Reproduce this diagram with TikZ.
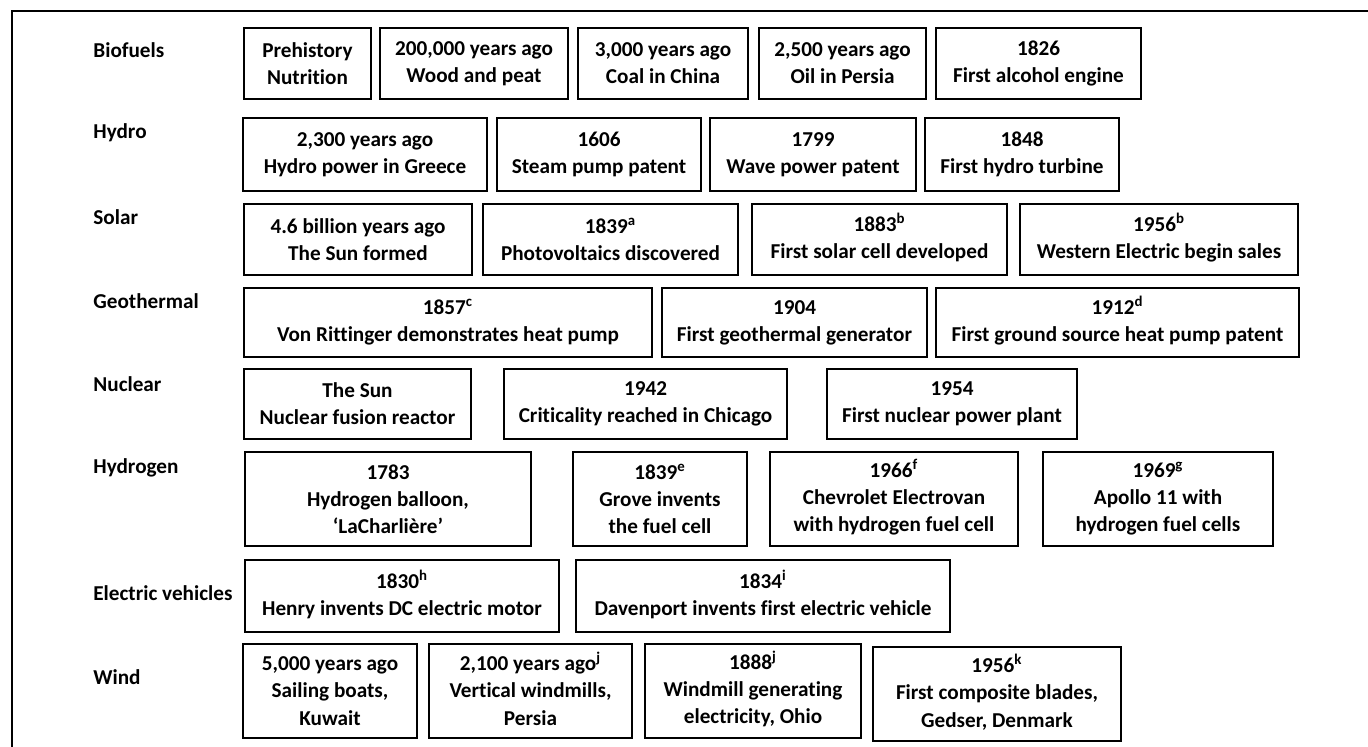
\documentclass[tikz,border=0pt]{standalone}
\usepackage{fontspec}
\setmainfont[Ligatures=NoCommon]{Carlito}

\newcommand\fnote[1]{\smash{\textsuperscript{#1}}}
\tikzset{
  evt/.style={draw, line width=1.3pt, inner sep=0pt, align=center,
    font=\bfseries\fontsize{10.6pt}{13.6pt}\selectfont},
  cat/.style={anchor=west, inner sep=0pt,
    font=\bfseries\fontsize{10.6pt}{13.6pt}\selectfont}
}

\begin{document}
\begin{tikzpicture}[x=0.5pt, y=-0.5pt]
  \useasboundingbox (0,0) rectangle (1368,747);
  % Frame
  \draw[line width=1pt] (12,747) -- (12,11) -- (1368,11);

  % Category labels
  \node[cat] (biofuels) at (93,50)  {Biofuels};
  \node[cat] (hydro)    at (93,133) {Hydro};
  \node[cat] (solar)    at (93,217) {Solar};
  \node[cat] (geo)      at (93,301) {Geothermal};
  \node[cat] (nuclear)  at (93,384) {Nuclear};
  \node[cat] (hydrogen) at (93,468) {Hydrogen};
  \node[cat] (ev)       at (93,593) {Electric vehicles};
  \node[cat] (wind)     at (93,677) {Wind};

  % Biofuels
  \node[evt, minimum width=63.5pt, minimum height=35.5pt] (bio1) at (307.5,63.5) {Prehistory\\Nutrition};
  \node[evt, minimum width=94pt, minimum height=35.5pt] (bio2) at (474,63.5) {200,000 years ago\\Wood and peat};
  \node[evt, minimum width=85pt, minimum height=35.5pt] (bio3) at (663,63.5) {3,000 years ago\\Coal in China};
  \node[evt, minimum width=83.5pt, minimum height=35.5pt] (bio4) at (842.5,63.5) {2,500 years ago\\Oil in Persia};
  \node[evt, minimum width=102.5pt, minimum height=35.5pt] (bio5) at (1038.5,63.5) {1826\\First alcohol engine};

  % Hydro
  \node[evt, minimum width=122pt, minimum height=36.5pt] (hyd1) at (365,154.5) {2,300 years ago\\Hydro power in Greece};
  \node[evt, minimum width=102pt, minimum height=36.5pt] (hyd2) at (599,154.5) {1606\\Steam pump patent};
  \node[evt, minimum width=103pt, minimum height=36.5pt] (hyd3) at (813,154.5) {1799\\Wave power patent};
  \node[evt, minimum width=97pt, minimum height=36.5pt] (hyd4) at (1022,154.5) {1848\\First hydro turbine};

  % Solar
  \node[evt, minimum width=114pt, minimum height=35.5pt] (sol1) at (358,239.5) {4.6 billion years ago\\The Sun formed};
  \node[evt, minimum width=127.5pt, minimum height=35.5pt] (sol2) at (610.5,239.5) {1839\fnote{a}\\Photovoltaics discovered};
  \node[evt, minimum width=127.5pt, minimum height=35.5pt] (sol3) at (879.5,239.5) {1883\fnote{b}\\First solar cell developed};
  \node[evt, minimum width=139pt, minimum height=35.5pt] (sol4) at (1159,239.5) {1956\fnote{b}\\Western Electric begin sales};

  % Geothermal
  \node[evt, minimum width=204pt, minimum height=34.5pt] (geo1) at (448,322.5) {1857\fnote{c}\\Von Rittinger demonstrates heat pump};
  \node[evt, minimum width=132.5pt, minimum height=34.5pt] (geo2) at (794.5,322.5) {1904\\First geothermal generator};
  \node[evt, minimum width=181.5pt, minimum height=34.5pt] (geo3) at (1117.5,322.5) {1912\fnote{d}\\First ground source heat pump patent};

  % Nuclear
  \node[evt, minimum width=113.5pt, minimum height=35pt] (nuc1) at (357.5,404) {The Sun\\Nuclear fusion reactor};
  \node[evt, minimum width=141.5pt, minimum height=35pt] (nuc2) at (645.5,404) {1942\\Criticality reached in Chicago};
  \node[evt, minimum width=125pt, minimum height=35pt] (nuc3) at (952,404) {1954\\First nuclear power plant};

  % Hydrogen
  \node[evt, minimum width=143pt, minimum height=47pt] (hyg1) at (388,499) {1783\\Hydrogen balloon,\\‘LaCharlière’};
  \node[evt, minimum width=87pt, minimum height=47pt] (hyg2) at (660,499) {1839\fnote{e}\\Grove invents\\the fuel cell};
  \node[evt, minimum width=124pt, minimum height=47pt] (hyg3) at (894,499) {1966\fnote{f}\\Chevrolet Electrovan\\with hydrogen fuel cell};
  \node[evt, minimum width=115pt, minimum height=47pt] (hyg4) at (1158,499) {1969\fnote{g}\\Apollo 11 with\\hydrogen fuel cells};

  % Electric vehicles
  \node[evt, minimum width=157pt, minimum height=36pt] (ev1) at (402,596) {1830\fnote{h}\\Henry invents DC electric motor};
  \node[evt, minimum width=187pt, minimum height=36pt] (ev2) at (763,596) {1834\fnote{i}\\Davenport invents first electric vehicle};

  % Wind
  \node[evt, minimum width=87pt, minimum height=47pt] (wnd1) at (330,691) {5,000 years ago\\Sailing boats,\\Kuwait};
  \node[evt, minimum width=101.5pt, minimum height=47pt] (wnd2) at (530.5,691) {2,100 years ago\fnote{j}\\Vertical windmills,\\Persia};
  \node[evt, minimum width=108pt, minimum height=47pt] (wnd3) at (753,691) {1888\fnote{j}\\Windmill generating\\electricity, Ohio};
  \node[evt, minimum width=124pt, minimum height=47pt] (wnd4) at (997,694) {1956\fnote{k}\\First composite blades,\\Gedser, Denmark};
\end{tikzpicture}
\end{document}
